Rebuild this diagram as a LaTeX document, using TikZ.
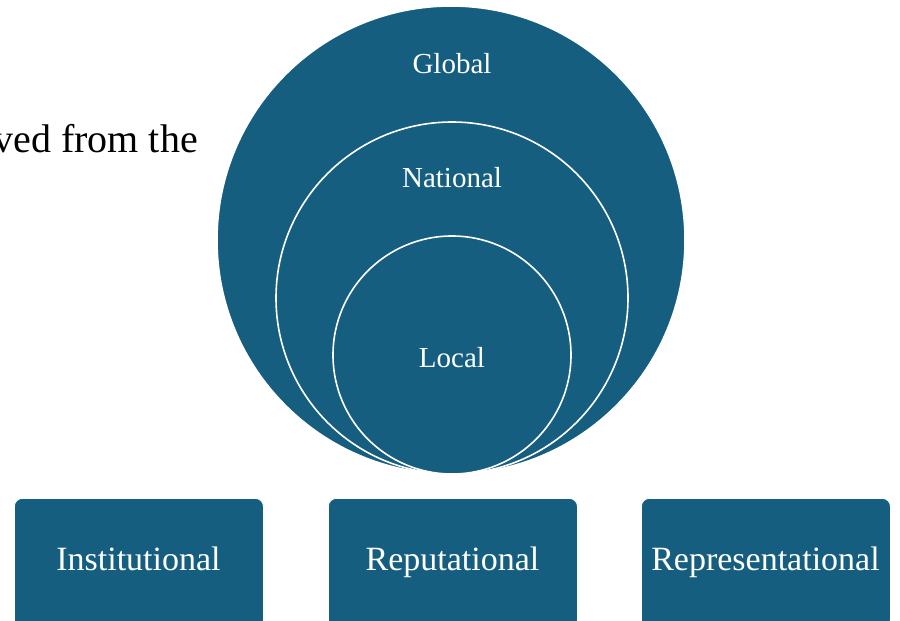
\documentclass[tikz,border=0pt]{standalone}
\usepackage{fontspec}
\setmainfont{Liberation Serif}
\definecolor{scopeblue}{RGB}{22,94,128}
\begin{document}
\begin{tikzpicture}[x=1pt,y=-1pt,
  ring/.style={circle, fill=scopeblue, draw=white, line width=1.6pt, inner sep=0pt},
  ringlabel/.style={text=white, anchor=base, inner sep=0pt, font=\fontsize{29}{34}\selectfont},
  dimbox/.style={rectangle, rounded corners=8pt, fill=scopeblue, draw=white, line width=0.8pt,
    minimum width=249pt, minimum height=130pt, anchor=north west},
  dimlabel/.style={text=white, anchor=base, inner sep=0pt, font=\fontsize{34}{40}\selectfont}]
  \useasboundingbox (0,0) rectangle (900,621);
  \begin{scope}
    \clip (0,0) rectangle (900,621);
    % running text beside the figure
    \node[anchor=base east, inner sep=0pt, font=\fontsize{40}{46}\selectfont] (runtext) at (198,152) {ved from the};
    % nested scopes, all touching at the bottom
    \node[ring, minimum size=468pt] (global) at (451,240) {};
    \node[ring, minimum size=352pt] (national) at (452,298) {};
    \node[ring, minimum size=238pt] (local) at (452,355) {};
    \node[ringlabel] (globaltxt) at (452,73) {Global};
    \node[ringlabel] (nationaltxt) at (452,187) {National};
    \node[ringlabel] (localtxt) at (452,367) {Local};
    % three dimension boxes
    \node[dimbox] (inst) at (14,498) {};
    \node[dimbox] (repu) at (328,498) {};
    \node[dimbox] (repr) at (641,498) {};
    \node[dimlabel] (insttxt) at (138.5,570) {Institutional};
    \node[dimlabel] (reputxt) at (452.5,570) {Reputational};
    \node[dimlabel] (reprtxt) at (765.5,570) {Representational};
  \end{scope}
\end{tikzpicture}
\end{document}
